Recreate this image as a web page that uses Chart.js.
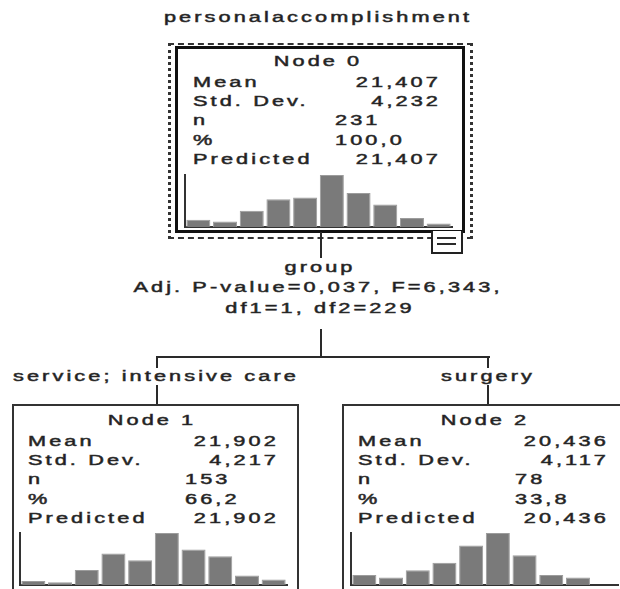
<!DOCTYPE html>
<html>
<head>
<meta charset="utf-8">
<script src="https://cdn.jsdelivr.net/npm/chart.js@4.4.0/dist/chart.umd.min.js"></script>
<style>
    body { margin: 0; background: #fff; }
    #stage { position: relative; width: 620px; height: 589px; overflow: hidden; background: #fff; }
    .txt {
        position: absolute;
        font-family: "Liberation Sans", Arial, sans-serif;
        font-size: 14px;
        line-height: 18px;
        letter-spacing: 2px;
        color: #1a1a1a;
        -webkit-text-stroke: 0.5px #333;
        white-space: nowrap;
    }
    .box { position: absolute; box-sizing: border-box; }
    .ln { position: absolute; background: #2a2a2a; }
    canvas { position: absolute; }
</style>
</head>
<body>
<div id="stage">
    <div class="box" style="left:168px;top:43px;width:305px;height:196px;border-top:2px dashed #333;border-bottom:2px dashed #333;border-left:3px dotted #333;border-right:3px dotted #333;"></div>
    <div class="box" style="left:175px;top:46px;width:290px;height:187px;border:3px solid #111;"></div>
    <div class="box" style="left:431px;top:231px;width:32px;height:23px;border:2px solid #222;border-top:none;background:#fff;"></div>
    <div class="ln" style="left:437px;top:237px;width:19px;height:2px;"></div>
    <div class="ln" style="left:437px;top:243px;width:19px;height:2px;"></div>

    <div class="ln" style="left:320px;top:232px;width:2px;height:26px;"></div>
    <div class="ln" style="left:320px;top:329px;width:2px;height:28px;"></div>
    <div class="ln" style="left:156px;top:356px;width:334px;height:2px;"></div>
    <div class="ln" style="left:156px;top:356px;width:2px;height:12px;"></div>
    <div class="ln" style="left:487px;top:356px;width:2px;height:12px;"></div>
    <div class="ln" style="left:156px;top:385px;width:2px;height:21px;"></div>
    <div class="ln" style="left:487px;top:385px;width:2px;height:21px;"></div>

    <div class="box" style="left:12px;top:404px;width:287px;height:200px;border:2px solid #333;"></div>
    <div class="box" style="left:342px;top:404px;width:300px;height:200px;border:2px solid #333;"></div>

    <canvas id="hist0" width="271" height="56" style="left:183px;top:173px;"></canvas>
    <canvas id="hist1" width="271" height="56" style="left:18px;top:531px;"></canvas>
    <canvas id="hist2" width="271" height="56" style="left:349px;top:531px;"></canvas>
</div>

<script>
// histogram bins (personalaccomplishment score classes)
const binLabels = ['10', '12', '14', '16', '18', '20', '22', '24', '26', '28'];

// counts per bin
const node0Counts = [8, 6, 18, 31, 33, 58, 38, 25, 10, 4];
const node1Counts = [3, 2, 11, 23, 18, 38, 26, 21, 7, 4];
const node2Counts = [4, 3, 6, 9, 16, 21, 12, 4, 3, 0];

const statNames = ['Mean', 'Std. Dev.', 'n', '%', 'Predicted'];
const node0Stats = ['21,407', '4,232', '231', '100,0', '21,407'];
const node1Stats = ['21,902', '4,217', '153', '66,2', '21,902'];
const node2Stats = ['20,436', '4,117', '78', '33,8', '20,436'];

const SX = 1.55;

function addText(str, x, y, align) {
    let el = document.createElement('div');
    el.className = 'txt';
    el.textContent = str;
    el.style.top = (y - 9) + 'px';
    if (align === 'left') {
        el.style.left = x + 'px';
        el.style.transformOrigin = 'left center';
        el.style.transform = `scaleX(${SX})`;
    } else if (align === 'right') {
        el.style.right = (620 - x - 3) + 'px';
        el.style.transformOrigin = 'right center';
        el.style.transform = `scaleX(${SX})`;
    } else {
        el.style.left = x + 'px';
        el.style.transform = `translateX(-50%) scaleX(${SX})`;
    }
    document.getElementById('stage').appendChild(el);
}

function nodeText(title, stats, cx, labelX, valueX, midX, top) {
    addText(title, cx, top, 'center');
    for (let i = 0; i < statNames.length; i++) {
        let y = top + 21 + i * 19.2;
        addText(statNames[i], labelX, y, 'left');
        if (i === 2 || i === 3) {
            addText(stats[i], midX, y, 'left');
        } else {
            addText(stats[i], valueX, y, 'right');
        }
    }
}

function makeHist(id, counts) {
    new Chart(document.getElementById(id), {
        type: 'bar',
        data: {
            labels: binLabels,
            datasets: [{
                data: counts,
                backgroundColor: '#7a7a7a',
                borderColor: '#9c9c9c',
                borderWidth: 1,
                barPercentage: 0.9,
                categoryPercentage: 1
            }]
        },
        options: {
            responsive: false,
            animation: false,
            layout: { padding: 2 },
            plugins: { legend: { display: false }, tooltip: { enabled: false } },
            scales: {
                x: {
                    grid: { display: false, drawTicks: false },
                    ticks: { display: false },
                    border: { display: true, color: '#333', width: 2 }
                },
                y: {
                    min: 0,
                    max: Math.max(...counts),
                    grid: { display: false, drawTicks: false },
                    ticks: { display: false },
                    border: { display: true, color: '#333', width: 2 }
                }
            }
        }
    });
}

document.addEventListener('DOMContentLoaded', function() {
    addText('personalaccomplishment', 318, 17, 'center');

    nodeText('Node 0', node0Stats, 318, 193, 438, 335, 61);
    nodeText('Node 1', node1Stats, 152, 28, 276, 185, 420);
    nodeText('Node 2', node2Stats, 485, 358, 606, 515, 420);

    addText('group', 320, 267, 'center');
    addText('Adj. P-value=0,037, F=6,343,', 318, 287, 'center');
    addText('df1=1, df2=229', 320, 308, 'center');

    addText('service; intensive care', 156, 376, 'center');
    addText('surgery', 488, 376, 'center');

    makeHist('hist0', node0Counts);
    makeHist('hist1', node1Counts);
    makeHist('hist2', node2Counts);
})
</script>
</body>
</html>
